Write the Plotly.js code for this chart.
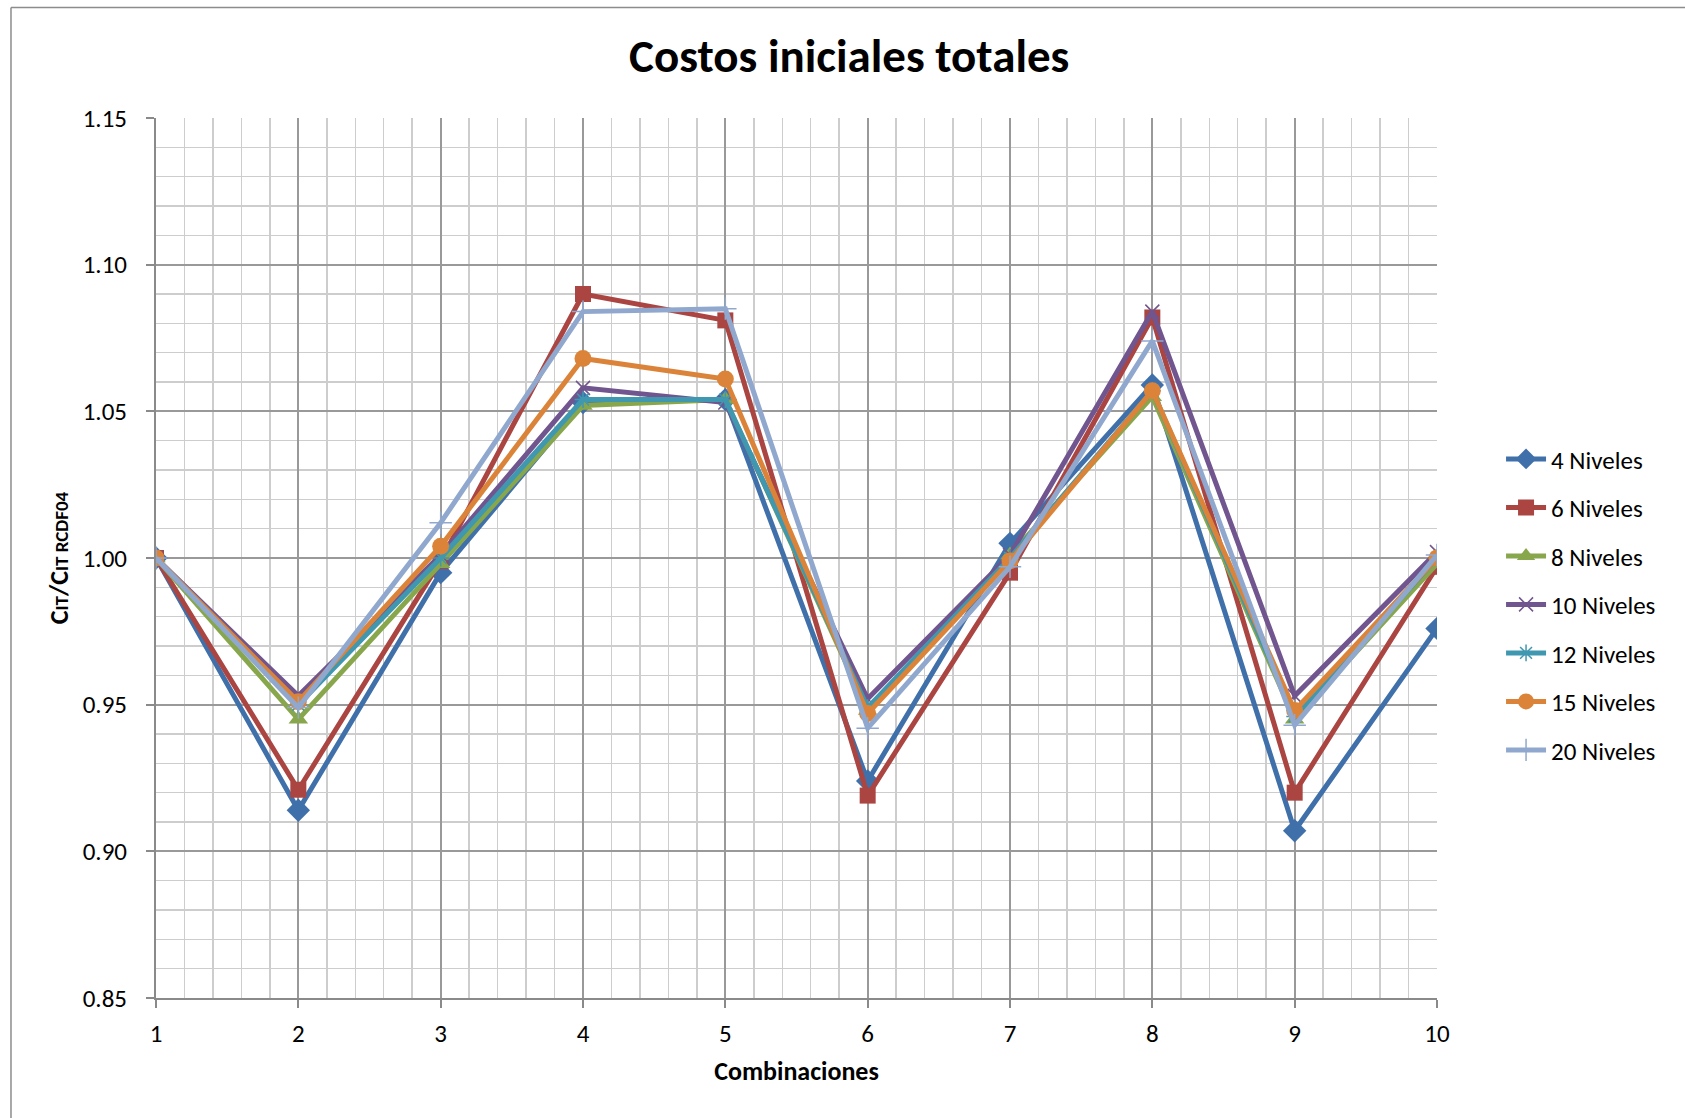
<!DOCTYPE html>
<html>
<head>
<meta charset="utf-8">
<script src="https://cdn.plot.ly/plotly-3.0.1.min.js"></script>
<style>
  html, body { margin: 0; padding: 0; background: #ffffff; }
  #chart { width: 1685px; height: 1118px; }
</style>
</head>
<body>
<div id="chart"></div>
<script>
// Combinaciones (eje X)
const combinaciones = [1, 2, 3, 4, 5, 6, 7, 8, 9, 10];

// Relación de costos iniciales totales CIT / CIT RCDF04 por número de niveles
const niveles4  = [1.000, 0.914, 0.995, 1.053, 1.054, 0.924, 1.005, 1.059, 0.907, 0.976];
const niveles6  = [1.000, 0.921, 0.999, 1.090, 1.081, 0.919, 0.995, 1.082, 0.920, 0.997];
const niveles8  = [1.000, 0.945, 0.998, 1.052, 1.054, 0.948, 1.001, 1.055, 0.945, 0.998];
const niveles10 = [1.000, 0.953, 1.001, 1.058, 1.053, 0.952, 1.001, 1.084, 0.953, 1.002];
const niveles12 = [1.000, 0.950, 1.000, 1.054, 1.054, 0.949, 1.000, 1.057, 0.946, 1.000];
const niveles15 = [1.000, 0.951, 1.004, 1.068, 1.061, 0.947, 0.999, 1.057, 0.948, 1.000];
const niveles20 = [1.000, 0.949, 1.012, 1.084, 1.085, 0.942, 0.997, 1.074, 0.943, 1.001];

const nombres = ["4 Niveles", "6 Niveles", "8 Niveles", "10 Niveles", "12 Niveles", "15 Niveles", "20 Niveles"];

const FONT = "Carlito, Calibri, Lato, 'Open Sans', sans-serif";

// Líneas secundarias de la cuadrícula: 5 divisiones por combinación, 5 por cada 0.05
function subdivisiones(inicio, fin, paso, partes) {
  const v = [];
  const n = Math.round((fin - inicio) / paso);
  for (let i = 0; i < n; i++) {
    for (let k = 1; k < partes; k++) {
      v.push(Math.round((inicio + i * paso + k * paso / partes) * 1e6) / 1e6);
    }
  }
  return v;
}

function serie(nombre, y, color, symbol, size, mlw) {
  return {
    type: "scatter",
    mode: "lines+markers",
    name: nombre,
    legendgroup: nombre,
    x: combinaciones,
    y: y,
    line: { color: color, width: 5 },
    marker: { symbol: symbol, size: size, color: color, line: { color: color, width: mlw } }
  };
}

const data = [
  serie(nombres[0], niveles4,  "#4070AA", "diamond",          18, 0),
  serie(nombres[1], niveles6,  "#AA4542", "square",           16, 0),
  serie(nombres[2], niveles8,  "#88A74C", "triangle-up",      17, 0),
  serie(nombres[3], niveles10, "#70558F", "x-thin-open",      14, 1.5),
  serie(nombres[4], niveles12, "#3F98B0", "asterisk-open",    14, 1.5),
  serie(nombres[5], niveles15, "#DB8439", "circle",           17, 0),
  serie(nombres[6], niveles20, "#90A8CE", "cross-thin-open",  16, 1.5)
];

const layout = {
  width: 1685,
  height: 1118,
  paper_bgcolor: "#ffffff",
  plot_bgcolor: "#ffffff",
  font: { family: FONT, size: 25, color: "#000000" },
  margin: { l: 156, r: 248, t: 118, b: 120, pad: 0 },
  title: {
    text: "<b>Costos iniciales totales</b>",
    font: { family: FONT, size: 47, color: "#000000" },
    x: 0.504, xref: "container", xanchor: "center",
    y: 0.95, yref: "container", yanchor: "middle"
  },
  xaxis: {
    range: [1, 10],
    dtick: 1,
    tick0: 1,
    ticks: "outside",
    ticklen: 8,
    tickwidth: 2,
    tickcolor: "#8a8a8a",
    ticklabelstandoff: 4,
    showgrid: true,
    gridcolor: "#999999",
    gridwidth: 2,
    minor: {
      tickmode: "array",
      tickvals: subdivisiones(1, 10, 1, 5),
      showgrid: true, gridcolor: "#cdcdcd", gridwidth: 1.5, ticks: ""
    },
    showline: true,
    linecolor: "#8a8a8a",
    linewidth: 2,
    zeroline: false,
    tickfont: { family: FONT, size: 25 },
    title: {
      text: "<b>Combinaciones</b>",
      font: { family: FONT, size: 26 },
      standoff: 14
    }
  },
  yaxis: {
    range: [0.85, 1.15],
    dtick: 0.05,
    tick0: 0.85,
    tickformat: ".2f",
    ticks: "outside",
    ticklen: 8,
    tickwidth: 2,
    tickcolor: "#8a8a8a",
    ticklabelstandoff: 14,
    showgrid: true,
    gridcolor: "#999999",
    gridwidth: 2,
    minor: {
      tickmode: "array",
      tickvals: subdivisiones(0.85, 1.15, 0.05, 5),
      showgrid: true, gridcolor: "#cdcdcd", gridwidth: 1.5, ticks: ""
    },
    showline: true,
    linecolor: "#8a8a8a",
    linewidth: 2,
    zeroline: false,
    tickfont: { family: FONT, size: 25 },
    title: {
      text: "<b>C<span style='font-size:19px'>IT</span>/C<span style='font-size:19px'>IT RCDF04</span></b>",
      font: { family: FONT, size: 26 },
      standoff: 7
    }
  },
  legend: {
    x: 1.05, xanchor: "left",
    y: 0.447, yanchor: "middle",
    traceorder: "grouped",
    tracegroupgap: 13,
    bgcolor: "rgba(0,0,0,0)",
    font: { family: FONT, size: 25 },
    itemwidth: 40
  },
  shapes: [
    // marco exterior del gráfico
    { type: "line", xref: "paper", yref: "paper", x0: -0.1132, x1: -0.1132, y0: -0.14, y1: 1.1256,
      line: { color: "#8c8c8c", width: 1.5 } },
    { type: "line", xref: "paper", yref: "paper", x0: -0.1132, x1: 1.2, y0: 1.1256, y1: 1.1256,
      line: { color: "#8c8c8c", width: 1.5 } }
  ],
  showlegend: true
};

Plotly.newPlot("chart", data, layout, { displayModeBar: false, staticPlot: true });
</script>
</body>
</html>
